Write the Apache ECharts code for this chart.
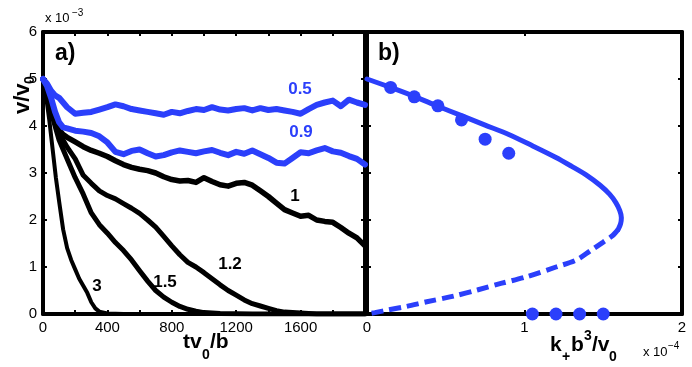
<!DOCTYPE html>
<html>
<head>
<meta charset="utf-8">
<script src="https://cdn.jsdelivr.net/npm/echarts@6/dist/echarts.min.js"></script>
<style>
  html, body { margin: 0; padding: 0; background: #fff; }
  #chart { width: 692px; height: 367px; }
</style>
</head>
<body>
<div id="chart"></div>
<script>
// a) v/v0 (x 10^-3) vs tv0/b, one curve per k+ value
const tNoisy = [0, 25, 50, 75, 100, 125, 150, 200, 250, 300, 350, 400, 450, 500, 550, 600, 650,
  700, 750, 800, 850, 900, 950, 1000, 1050, 1100, 1150, 1200, 1250, 1300, 1350, 1400, 1450,
  1500, 1550, 1600, 1650, 1700, 1750, 1800, 1850, 1900, 1950, 2000];
const v05 = [5.0, 4.9, 4.75, 4.65, 4.6, 4.5, 4.4, 4.26, 4.28, 4.3, 4.35, 4.4, 4.46, 4.42, 4.36, 4.33, 4.3,
  4.27, 4.24, 4.3, 4.27, 4.32, 4.36, 4.34, 4.4, 4.35, 4.33, 4.36, 4.38, 4.33, 4.38, 4.34, 4.36,
  4.33, 4.3, 4.26, 4.36, 4.45, 4.5, 4.54, 4.42, 4.56, 4.5, 4.45];
const v09 = [5.0, 4.85, 4.6, 4.3, 4.08, 3.97, 3.95, 3.9, 3.88, 3.85, 3.78, 3.65, 3.45, 3.4, 3.47, 3.5, 3.42,
  3.35, 3.38, 3.44, 3.48, 3.45, 3.42, 3.46, 3.49, 3.43, 3.38, 3.45, 3.41, 3.48, 3.4, 3.32, 3.22,
  3.2, 3.32, 3.44, 3.42, 3.48, 3.53, 3.46, 3.43, 3.36, 3.3, 3.18];
const v1 = [5.0, 4.8, 4.5, 4.15, 3.92, 3.82, 3.76, 3.66, 3.56, 3.48, 3.42, 3.35, 3.26, 3.18, 3.12, 3.08, 3.05,
  3.0, 2.92, 2.86, 2.83, 2.84, 2.8, 2.9, 2.82, 2.75, 2.72, 2.78, 2.8, 2.74, 2.62, 2.5, 2.36,
  2.22, 2.15, 2.08, 2.1, 2.0, 1.97, 1.95, 1.84, 1.72, 1.62, 1.45];
const t12 = [0, 25, 50, 75, 100, 150, 200, 250, 300, 350, 400, 450, 500, 550, 600, 650, 700, 750, 800,
  850, 900, 950, 1000, 1050, 1100, 1150, 1200, 1250, 1300, 1350, 1400, 1450, 1500, 1600, 1700, 2000];
const v12 = [5.0, 4.75, 4.4, 4.05, 3.85, 3.55, 3.3, 2.95, 2.78, 2.62, 2.52, 2.45, 2.35, 2.25, 2.14, 2.0, 1.85, 1.65, 1.45,
  1.26, 1.1, 1.0, 0.88, 0.75, 0.62, 0.5, 0.4, 0.3, 0.22, 0.17, 0.12, 0.07, 0.04, 0.02, 0, 0];
const t15 = [0, 25, 50, 75, 100, 150, 200, 250, 300, 350, 400, 450, 500, 550, 600, 650, 700, 750, 800,
  850, 900, 950, 1000, 1100, 1300, 2000];
const v15 = [5.0, 4.7, 4.3, 4.0, 3.7, 3.3, 2.9, 2.55, 2.15, 1.9, 1.72, 1.52, 1.35, 1.15, 0.92, 0.7, 0.5, 0.36, 0.25,
  0.16, 0.1, 0.06, 0.03, 0.01, 0, 0];
const t3 = [0, 20, 40, 60, 80, 100, 125, 150, 175, 200, 225, 250, 275, 300, 325, 350, 400, 500, 2000];
const v3 = [5.0, 4.6, 4.1, 3.5, 2.9, 2.4, 1.8, 1.4, 1.15, 0.95, 0.75, 0.6, 0.45, 0.25, 0.12, 0.05, 0.01, 0, 0];

// b) v/v0 vs k+ b^3/v0 (x 10^-4)
const kSolid = [0, 0.15, 0.3, 0.45, 0.6, 0.75, 0.9, 1.05, 1.2, 1.3, 1.4, 1.48, 1.54, 1.58, 1.605, 1.615, 1.61, 1.595];
const vSolid = [5.0, 4.82, 4.63, 4.42, 4.22, 4.02, 3.82, 3.58, 3.33, 3.14, 2.94, 2.74, 2.55, 2.37, 2.2, 2.05, 1.92, 1.8];
const kDashed = [1.595, 1.56, 1.5, 1.42, 1.33, 1.2, 1.01, 0.85, 0.7, 0.55, 0.38, 0.25, 0.13, 0.05, 0];
const vDashed = [1.8, 1.67, 1.53, 1.35, 1.15, 1.0, 0.79, 0.65, 0.51, 0.38, 0.26, 0.16, 0.085, 0.03, 0];
const kDots = [0.15, 0.3, 0.45, 0.6, 0.75, 0.9, 1.05, 1.2, 1.35, 1.5];
const vDots = [4.82, 4.62, 4.43, 4.13, 3.72, 3.42, 0, 0, 0, 0];

const blue = '#2b3ffb';
const F = '"Liberation Sans", Arial, sans-serif';
const zip = (xs, ys) => xs.map((x, i) => [x, ys[i]]);

const chart = echarts.init(document.getElementById('chart'));

function txt(x, y, text, size, opt) {
  opt = opt || {};
  return {
    type: 'text', x: x, y: y, z: 10,
    style: {
      text: text,
      font: (opt.bold === false ? '' : 'bold ') + size + 'px ' + F,
      fill: opt.color || '#000',
      align: opt.align || 'left', textAlign: opt.align || 'left',
      verticalAlign: 'middle', textVerticalAlign: 'middle'
    }
  };
}

// frame axes, ticks inside on all four sides
function frameAxis(grid, pos, min, max, interval, labels) {
  return {
    type: 'value', gridIndex: grid, position: pos, min: min, max: max, interval: interval,
    axisLine: { show: true, onZero: false, lineStyle: { color: '#000', width: 4 } },
    axisTick: { show: true, inside: true, length: 4, lineStyle: { color: '#000', width: 2 } },
    axisLabel: labels ? Object.assign({ color: '#000', fontSize: 15, fontFamily: F, margin: 6 }, labels)
                      : { show: false },
    splitLine: { show: false }
  };
}

function line(data, color, width, xi, yi, extra) {
  return Object.assign({
    type: 'line', data: data, xAxisIndex: xi, yAxisIndex: yi,
    showSymbol: false, symbol: 'none', animation: false, silent: true,
    lineStyle: { color: color, width: width, cap: 'round', join: 'round' }
  }, extra || {});
}

chart.setOption({
  animation: false,
  grid: [
    { left: 43, top: 32, width: 322, height: 282 },
    { left: 367, top: 32, width: 315, height: 282 }
  ],
  xAxis: [
    frameAxis(0, 'bottom', 0, 2000, 200, {
      formatter: v => (v % 400 === 0 && v < 2000) ? String(v) : ''
    }),
    frameAxis(0, 'top', 0, 2000, 200, null),
    frameAxis(1, 'bottom', 0, 2, 1, {}),
    frameAxis(1, 'top', 0, 2, 1, null)
  ],
  yAxis: [
    frameAxis(0, 'left', 0, 6, 1, {}),
    frameAxis(0, 'right', 0, 6, 1, null),
    frameAxis(1, 'left', 0, 6, 1, null),
    frameAxis(1, 'right', 0, 6, 1, null)
  ],
  series: [
    line(zip(t3, v3), '#000', 4, 0, 0),
    line(zip(t15, v15), '#000', 5, 0, 0),
    line(zip(t12, v12), '#000', 5, 0, 0),
    line(zip(tNoisy, v1), '#000', 5.5, 0, 0),
    line(zip(tNoisy, v09), blue, 6, 0, 0),
    line(zip(tNoisy, v05), blue, 6, 0, 0),
    line(zip(kSolid, vSolid), blue, 5, 2, 2, { smooth: 0.3 }),
    line(zip(kDashed, vDashed), blue, 5, 2, 2, {
      smooth: 0.3,
      lineStyle: { color: blue, width: 5, type: [12, 6], cap: 'butt' }
    }),
    {
      type: 'scatter', data: zip(kDots, vDots), xAxisIndex: 2, yAxisIndex: 2,
      symbol: 'circle', symbolSize: 13, clip: false, silent: true,
      itemStyle: { color: blue, opacity: 1 }, z: 5
    }
  ],
  graphic: [
    txt(55, 54, 'a)', 23),
    txt(378, 54, 'b)', 23),
    // exponent notes
    txt(45, 18.5, 'x 10', 13, { bold: false }),
    txt(72, 13.5, '\u22123', 10, { bold: false }),
    txt(643, 352.5, 'x 10', 13, { bold: false }),
    txt(668, 346.5, '\u22124', 10, { bold: false }),
    // x titles
    txt(183, 342.6, 'tv', 21),
    txt(202, 355, '0', 14),
    txt(210, 342.6, '/b', 21),
    txt(550, 345.6, 'k', 21),
    txt(562, 357, '+', 14),
    txt(571, 345.6, 'b', 21),
    txt(584, 336, '3', 14),
    txt(592, 345.6, '/v', 21),
    txt(609, 357, '0', 14),
    // y title, rotated
    {
      type: 'group', x: 31, y: 114, rotation: Math.PI / 2,
      children: [
        txt(0, -7.7, 'v/v', 22),
        txt(30, -1, '0', 14)
      ]
    },
    // curve labels
    txt(300, 89, '0.5', 17, { color: blue, align: 'center' }),
    txt(301, 132, '0.9', 17, { color: blue, align: 'center' }),
    txt(295, 196, '1', 17, { align: 'center' }),
    txt(230, 264, '1.2', 17, { align: 'center' }),
    txt(165, 282, '1.5', 17, { align: 'center' }),
    txt(97, 286, '3', 17, { align: 'center' })
  ]
});
</script>
</body>
</html>
